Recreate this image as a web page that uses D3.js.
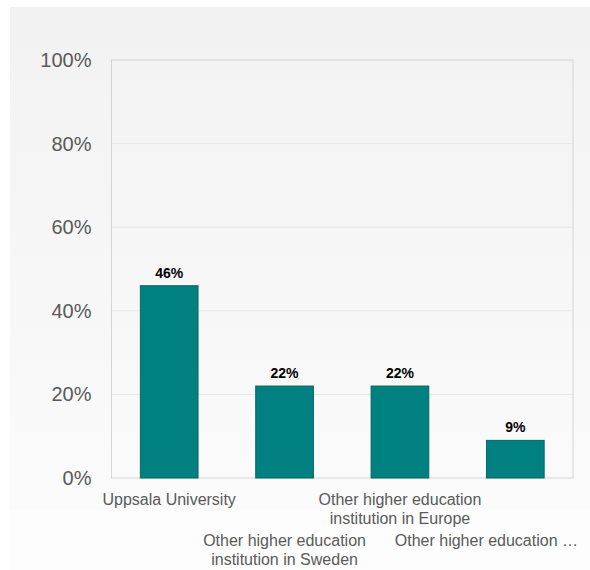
<!DOCTYPE html>
<html><head><meta charset="utf-8">
<script src="https://cdn.jsdelivr.net/npm/d3@7"></script>
<style>html,body{margin:0;padding:0;background:#fff}svg{display:block}</style>
</head><body>
<script>
const categories = ["Uppsala University", "Other higher education institution in Sweden", "Other higher education institution in Europe", "Other higher education institution outside Europe"];
const labelLines = [["Uppsala University"], ["Other higher education", "institution in Sweden"], ["Other higher education", "institution in Europe"], ["Other higher education …"]];
const values = [46, 22, 22, 9];
const valueLabels = ["46%", "22%", "22%", "9%"];
const yTicks = [0, 20, 40, 60, 80, 100];

const W = 590, H = 570;
const svg = d3.select("body").append("svg").attr("width", W).attr("height", H);
const defs = svg.append("defs");
const g = defs.append("linearGradient").attr("id", "bg").attr("x1", 0).attr("y1", 0).attr("x2", 0).attr("y2", 1);
g.append("stop").attr("offset", "0%").attr("stop-color", "#f2f2f2");
g.append("stop").attr("offset", "100%").attr("stop-color", "#fbfbfb");
svg.append("rect").attr("x", 10).attr("y", 510).attr("width", 580).attr("height", 60).attr("fill", "#fdfdfd");
svg.append("rect").attr("x", 10).attr("y", 7).attr("width", 580).attr("height", 503).attr("fill", "url(#bg)");

const L = 111.5, R = 573, T = 60, B = 478;
const x = d3.scaleBand().domain(categories).range([L, R]).paddingInner(0.5).paddingOuter(0.25);
const y = d3.scaleLinear().domain([0, 100]).range([B, T]);

// gridlines
svg.append("g").selectAll("line").data(yTicks.filter(d => d > 0 && d < 100)).join("line")
  .attr("x1", L).attr("x2", R).attr("y1", d => y(d)).attr("y2", d => y(d))
  .attr("stroke", "#e6e6e6").attr("stroke-width", 1);
// plot border
svg.append("rect").attr("x", L).attr("y", T).attr("width", R - L).attr("height", B - T)
  .attr("fill", "none").attr("stroke", "#d4d4d4").attr("stroke-width", 1);

// y axis labels
const yAxis = d3.axisLeft(y).tickValues(yTicks).tickFormat(d => d + "%").tickSize(0).tickPadding(20);
const ya = svg.append("g").attr("transform", `translate(${L},0)`).call(yAxis);
ya.select(".domain").remove();
ya.selectAll("text").attr("font-family", "Liberation Sans, Arial, sans-serif").attr("font-size", 20).attr("fill", "#595959");

// bars
svg.append("g").selectAll("rect").data(values).join("rect")
  .attr("x", (d, i) => x(categories[i])).attr("width", x.bandwidth())
  .attr("y", d => y(d)).attr("height", d => B - y(d))
  .attr("fill", "#008080").attr("stroke", "#0b6464").attr("stroke-width", 1);

// value labels
svg.append("g").selectAll("text").data(values).join("text")
  .attr("x", (d, i) => x(categories[i]) + x.bandwidth() / 2).attr("y", d => y(d) - 8)
  .attr("text-anchor", "middle").attr("font-family", "Liberation Sans, Arial, sans-serif")
  .attr("font-size", 14).attr("font-weight", "bold").attr("fill", "#000")
  .text((d, i) => valueLabels[i]);

// x labels (staggered)
const baseY = [504.5, 545.5, 504.5, 545.5];
const xl = svg.append("g");
labelLines.forEach((lines, i) => {
  let cx = x(categories[i]) + x.bandwidth() / 2;
  const t = xl.append("text").attr("font-family", "Liberation Sans, Arial, sans-serif")
    .attr("font-size", 16).attr("fill", "#595959");
  if (i === 3) { t.attr("text-anchor", "end"); cx = 578; } else t.attr("text-anchor", "middle");
  lines.forEach((ln, j) => {
    t.append("tspan").attr("x", cx).attr("y", baseY[i] + j * 19.5).text(ln);
  });
});
</script>
</body></html>
